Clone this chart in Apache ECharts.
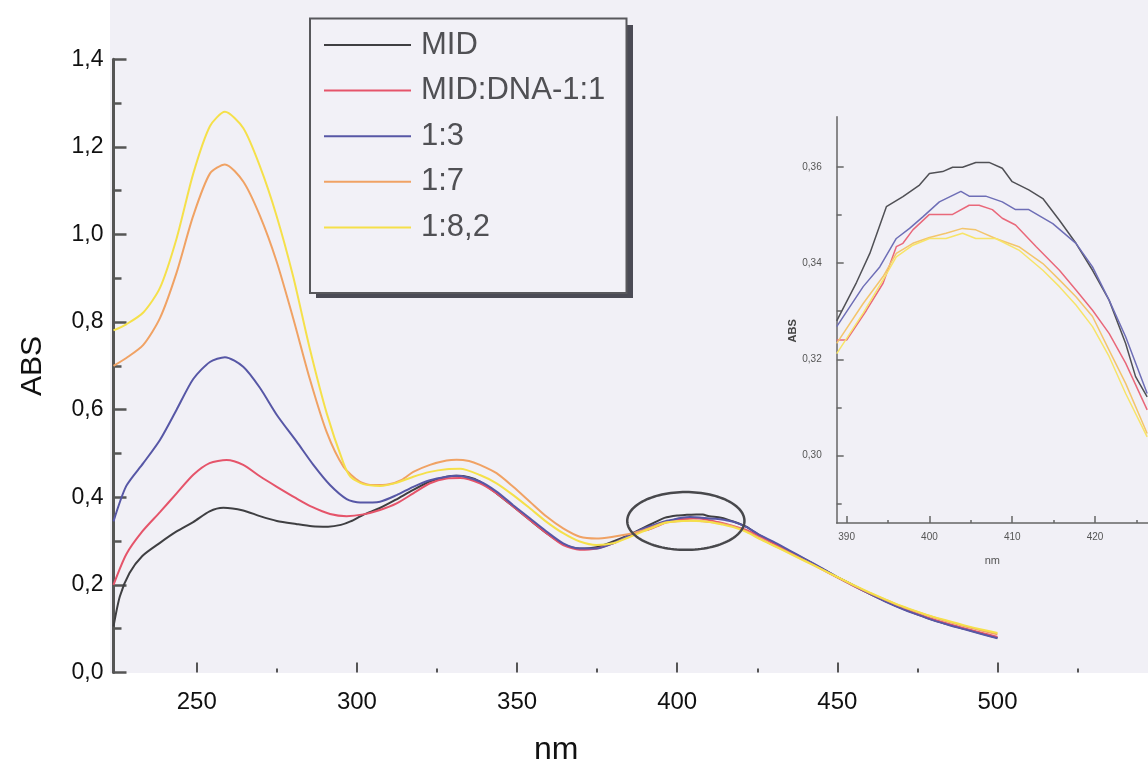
<!DOCTYPE html>
<html>
<head>
<meta charset="utf-8">
<script src="https://cdn.jsdelivr.net/npm/echarts@6/dist/echarts.min.js"></script>
<style>
html,body{margin:0;padding:0;background:#ffffff;}
#c{width:1148px;height:767px;}
</style>
</head>
<body>
<div id="c"></div>
<script>
// ---------- data ----------
const seriesNames = ['MID', 'MID:DNA-1:1', '1:3', '1:7', '1:8,2'];

const xMajorTicks = [250, 300, 350, 400, 450, 500];
const xMinorTicks = [275, 325, 375, 425, 475, 525];
const insetXTicks = [390, 400, 410, 420];
const insetXMinor = [395, 405, 415, 425];
const insetYTicks = [0.30, 0.32, 0.34, 0.36];
const insetYMinor = [0.29, 0.31, 0.33, 0.35];

const midMain = [[224,0.105],[226,0.174],[229,0.227],[233,0.266],[238.5,0.296],[243.7,0.322],[249,0.344],[254,0.368],[258.3,0.376],[264.5,0.370],[269.7,0.357],[275,0.346],[281,0.339],[286,0.334],[291,0.333],[295,0.337],[298,0.345],[302,0.360],[307,0.375],[312,0.394],[317.6,0.417],[322.8,0.436],[328,0.447],[331,0.449],[335,0.446],[338.4,0.436],[343.6,0.409],[348.8,0.379],[354,0.348],[359.2,0.318],[364.4,0.293],[369.6,0.283],[374.8,0.286],[380,0.299],[385,0.314],[388.8,0.328],[392.8,0.342],[396,0.353],[400,0.3586],[403,0.360],[406,0.361],[408,0.3605],[410,0.3569],[413.7,0.3534],[417.7,0.3441],[421.7,0.3323],[425,0.3164],[430,0.296],[435,0.277],[440,0.258],[445,0.238],[450,0.218],[455,0.199],[460,0.180],[465,0.163],[470,0.147],[475,0.133],[480,0.120],[485,0.109],[490,0.099],[495,0.089],[500,0.079]];

const dna1Main = [[224,0.200],[228,0.270],[233,0.322],[238.5,0.366],[243.7,0.409],[249,0.452],[254,0.478],[259.3,0.485],[264.5,0.474],[269.7,0.448],[275,0.424],[281,0.398],[286,0.378],[291.6,0.362],[296.8,0.357],[302,0.361],[307.2,0.371],[312.4,0.386],[317.6,0.409],[322.8,0.432],[328,0.443],[332.2,0.444],[338.4,0.432],[343.6,0.409],[348.8,0.379],[354,0.348],[359.2,0.318],[364.4,0.291],[369.6,0.280],[374.8,0.283],[380,0.295],[385,0.312],[389,0.324],[391,0.326],[394.4,0.336],[397,0.344],[400,0.350],[403,0.3505],[405,0.352],[407,0.3515],[409,0.349],[413,0.343],[417.7,0.334],[421.7,0.325],[426,0.310],[430,0.295],[435,0.276],[440,0.257],[445,0.237],[450,0.217],[455,0.198],[460,0.180],[465,0.163],[470,0.147],[475,0.133],[480,0.121],[485,0.110],[490,0.100],[495,0.091],[500,0.081]];

const dna3Main = [[224,0.345],[228,0.426],[233.3,0.478],[238.5,0.531],[243.7,0.600],[248.9,0.670],[254.1,0.709],[258.8,0.720],[264.5,0.698],[269.7,0.650],[275,0.588],[281.2,0.527],[286.4,0.474],[291.6,0.428],[296.8,0.396],[301,0.388],[307.2,0.390],[312.4,0.405],[317.6,0.424],[322.8,0.439],[328,0.447],[331.1,0.449],[338.4,0.436],[343.6,0.413],[348.8,0.382],[354,0.352],[359.2,0.322],[364.4,0.295],[369.6,0.283],[374.8,0.283],[380,0.295],[385,0.313],[389,0.327],[392,0.335],[396,0.345],[399,0.3495],[401,0.3525],[404,0.3549],[407,0.354],[410,0.3515],[412,0.351],[415,0.348],[417.7,0.344],[421.7,0.332],[426,0.313],[430,0.299],[435,0.279],[440,0.259],[445,0.239],[450,0.218],[455,0.199],[460,0.180],[465,0.162],[470,0.146],[475,0.132],[480,0.119],[485,0.108],[490,0.098],[495,0.088],[500,0.078]];

const dna7Main = [[224,0.700],[228,0.718],[233.3,0.748],[238.5,0.809],[243.7,0.913],[248.9,1.043],[254.1,1.139],[258.8,1.160],[264.5,1.121],[269.7,1.043],[274.9,0.939],[280.1,0.809],[285.3,0.670],[290.6,0.548],[295.8,0.470],[301,0.435],[305,0.428],[310,0.430],[314,0.440],[317.6,0.458],[322.8,0.474],[328,0.484],[331.1,0.486],[335,0.483],[338.4,0.474],[343.6,0.455],[348.8,0.424],[354,0.390],[359.2,0.356],[364.4,0.329],[369.6,0.310],[374.8,0.306],[380,0.310],[385,0.316],[389,0.3235],[392,0.3316],[396,0.342],[400,0.3453],[404,0.3472],[406,0.3468],[408,0.3451],[411,0.3433],[413.7,0.340],[417.7,0.333],[421.7,0.322],[426,0.305],[430,0.291],[435,0.273],[440,0.255],[445,0.236],[450,0.217],[455,0.199],[460,0.182],[465,0.166],[470,0.151],[475,0.138],[480,0.126],[485,0.115],[490,0.105],[495,0.096],[500,0.087]];

const dna82Main = [[224,0.781],[228,0.795],[233.3,0.822],[238.5,0.878],[243.7,0.991],[248.9,1.139],[254.1,1.247],[258.8,1.280],[264.5,1.243],[269.7,1.156],[274.9,1.043],[280.1,0.904],[285.3,0.739],[290.6,0.591],[295.8,0.478],[298,0.447],[302,0.430],[307.2,0.426],[312.4,0.433],[317.6,0.447],[322.8,0.458],[328,0.464],[332.2,0.465],[338.4,0.451],[343.6,0.432],[348.8,0.405],[354,0.375],[359.2,0.344],[364.4,0.318],[369.6,0.299],[374.8,0.291],[380,0.295],[385.3,0.310],[389,0.321],[392,0.3296],[396,0.3413],[400,0.3451],[404,0.3462],[408,0.3451],[411,0.3427],[413.7,0.3385],[417.7,0.3313],[421.7,0.3206],[426,0.304],[430,0.290],[435,0.272],[440,0.254],[445,0.236],[450,0.218],[455,0.200],[460,0.183],[465,0.167],[470,0.152],[475,0.139],[480,0.127],[485,0.117],[490,0.107],[495,0.098],[500,0.090]];

const midInset = [[388.8,0.328],[391.2,0.336],[392.8,0.342],[394.8,0.3517],[396.8,0.3538],[398.8,0.3562],[400,0.3586],[401.6,0.359],[402.8,0.3599],[404,0.3599],[405.6,0.3609],[407.2,0.3609],[408.8,0.3597],[410,0.3569],[412,0.3552],[413.7,0.3534],[415.7,0.3489],[417.7,0.3441],[419.7,0.3385],[421.7,0.3323],[423.7,0.3233],[424.9,0.3164],[426.3,0.3122]];
const dna1Inset = [[388.8,0.324],[390,0.324],[392.4,0.3302],[394.4,0.3358],[396,0.3434],[396.8,0.3441],[398,0.3469],[400,0.3501],[402.8,0.3501],[404.8,0.352],[406,0.352],[407.6,0.3511],[408.8,0.3493],[410.4,0.3479],[412.9,0.3434],[415.7,0.3385],[417.7,0.3344],[419.7,0.3302],[421.7,0.3254],[423.7,0.3192],[426.3,0.3095]];
const dna3Inset = [[388.8,0.3268],[392,0.3351],[394,0.3392],[396,0.3451],[397.6,0.3472],[399.2,0.3496],[401.2,0.3527],[403.8,0.3549],[404.8,0.3539],[406.8,0.3539],[408.8,0.3527],[410.4,0.3511],[412,0.3511],[414.9,0.3482],[417.7,0.3441],[419.7,0.3392],[421.7,0.3323],[423.7,0.3247],[426.3,0.3129]];
const dna7Inset = [[388.8,0.3233],[392,0.3316],[394.4,0.3372],[396,0.342],[398,0.3441],[400,0.3453],[402,0.3462],[404,0.3472],[405.6,0.3469],[408,0.3451],[410.8,0.3434],[413.7,0.3399],[415.7,0.3365],[417.7,0.333],[419.7,0.3289],[421.7,0.3219],[423.7,0.315],[426.3,0.3046]];
const dna82Inset = [[388.8,0.3212],[392,0.3296],[394.4,0.3365],[396,0.3413],[398,0.3437],[400,0.3451],[402,0.3451],[404,0.3462],[405.6,0.3451],[408,0.3451],[410.8,0.3427],[413.7,0.3385],[415.7,0.3351],[417.7,0.3313],[419.7,0.3268],[421.7,0.3206],[423.7,0.3129],[426.3,0.3039]];

// highlighted region (centre x, centre y, half-width, half-height in data units)
const ellipseSpec = [402.7, 0.346, 18.3, 0.066];

// ---------- styles ----------
const mainColors  = ['#3f3f42', '#e5546a', '#5757a6', '#f0a264', '#f5e04a'];
const insetColors = ['#505055', '#e9687a', '#6e6eb6', '#f3c56c', '#f7e468'];
const FONT = 'Liberation Sans, Arial, sans-serif';

const mainData = [midMain, dna1Main, dna3Main, dna7Main, dna82Main];
const insetData = [midInset, dna1Inset, dna3Inset, dna7Inset, dna82Inset];

const series = [];
mainData.forEach((d, i) => {
  series.push({
    name: seriesNames[i], type: 'line', xAxisIndex: 0, yAxisIndex: 0,
    data: d, symbol: 'none', smooth: 0.25, z: 2 + i * 0.01,
    lineStyle: { color: mainColors[i], width: 2 }, itemStyle: { color: mainColors[i] }
  });
});
insetData.forEach((d, i) => {
  series.push({
    name: seriesNames[i], type: 'line', xAxisIndex: 2, yAxisIndex: 1,
    data: d, symbol: 'none', smooth: false,
    lineStyle: { color: insetColors[i], width: 1.5 }, itemStyle: { color: insetColors[i] }
  });
});
series.push({
  name: 'highlight', type: 'custom', xAxisIndex: 0, yAxisIndex: 0, silent: true, z: 6,
  data: [ellipseSpec], encode: { x: 0, y: 1 },
  renderItem: function (params, api) {
    const cx = api.value(0), cy = api.value(1), rx = api.value(2), ry = api.value(3);
    const c = api.coord([cx, cy]);
    const e = api.coord([cx + rx, cy + ry]);
    const a = e[0] - c[0], b = c[1] - e[1];
    const pts = [];
    for (let k = 0; k < 120; k++) {
      const t = k / 120 * Math.PI * 2;
      pts.push([c[0] + a * Math.cos(t), c[1] + b * Math.sin(t)]);
    }
    return { type: 'polygon', shape: { points: pts }, style: { fill: 'none', stroke: '#48484c', lineWidth: 2.5 } };
  }
});

const axisCol = '#555';
const chart = echarts.init(document.getElementById('c'), null, { renderer: 'canvas' });
chart.setOption({
  animation: false,
  backgroundColor: 'transparent',
  graphic: [
    { type: 'rect', z: -10, silent: true, shape: { x: 110, y: 0, width: 1038, height: 673 }, style: { fill: '#f1f0f6' } },
    { type: 'rect', z: 3, silent: true, shape: { x: 316, y: 25, width: 317, height: 273 }, style: { fill: '#4b4b55' } },
    { type: 'rect', z: 3, silent: true, shape: { x: 310, y: 18.5, width: 316.5, height: 274.5 }, style: { fill: '#f2f1f7', stroke: '#58585c', lineWidth: 2 } }
  ],
  legend: {
    data: seriesNames, orient: 'vertical', left: 323, top: 29.5,
    itemWidth: 87, itemHeight: 31, itemGap: 14.6, padding: 0, selectedMode: false, z: 5,
    itemStyle: { opacity: 0 },
    lineStyle: { width: 2 },
    textStyle: { fontSize: 31, color: '#505054', fontFamily: FONT, padding: [0, 0, 0, 5], lineHeight: 31 }
  },
  grid: [
    { left: 113.5, top: 59.3, width: 1034.5, height: 613.2, containLabel: false, outerBoundsMode: 'none' },
    { left: 836.7, top: 116.7, width: 311.3, height: 406.3, containLabel: false, outerBoundsMode: 'none' }
  ],
  xAxis: [
    {
      type: 'value', gridIndex: 0, min: 224, max: 547, position: 'bottom',
      axisLine: { show: false },
      axisTick: { show: true, inside: true, length: 10, customValues: xMajorTicks, lineStyle: { color: axisCol, width: 2 } },
      axisLabel: { customValues: xMajorTicks, margin: 18, fontSize: 24, color: '#111', fontFamily: FONT },
      splitLine: { show: false },
      name: 'nm', nameLocation: 'middle', nameGap: 62,
      nameTextStyle: { fontSize: 32, color: '#111', fontFamily: FONT, padding: [0, 149, 0, 0] }
    },
    {
      type: 'value', gridIndex: 0, min: 224, max: 547, position: 'bottom',
      axisLine: { show: false },
      axisTick: { show: true, inside: true, length: 4, customValues: xMinorTicks, lineStyle: { color: axisCol, width: 2 } },
      axisLabel: { show: false }, splitLine: { show: false }
    },
    {
      type: 'value', gridIndex: 1, min: 388.8, max: 426.4, position: 'bottom',
      axisLine: { show: true, onZero: false, lineStyle: { color: '#666', width: 1.5 } },
      axisTick: { show: true, inside: true, length: 7, customValues: insetXTicks, lineStyle: { color: '#666', width: 1.5 } },
      axisLabel: { customValues: insetXTicks, margin: 9, fontSize: 10, color: '#555', fontFamily: FONT },
      splitLine: { show: false },
      name: 'nm', nameLocation: 'middle', nameGap: 32,
      nameTextStyle: { fontSize: 11, color: '#555', fontFamily: FONT }
    },
    {
      type: 'value', gridIndex: 1, min: 388.8, max: 426.4, position: 'bottom',
      axisLine: { show: false, onZero: false },
      axisTick: { show: true, inside: true, length: 3, customValues: insetXMinor, lineStyle: { color: '#666', width: 1.5 } },
      axisLabel: { show: false }, splitLine: { show: false }
    }
  ],
  yAxis: [
    {
      type: 'value', gridIndex: 0, min: 0, max: 1.4, interval: 0.2, position: 'left',
      axisLine: { show: true, onZero: false, lineStyle: { color: axisCol, width: 3 } },
      axisTick: { show: true, inside: true, length: 13, lineStyle: { color: axisCol, width: 2.5 } },
      minorTick: { show: true, splitNumber: 2, length: 8, lineStyle: { color: axisCol, width: 2.5 } },
      axisLabel: { margin: 10, fontSize: 23, color: '#111', fontFamily: FONT,
        formatter: v => v.toFixed(1).replace('.', ',') },
      splitLine: { show: false },
      name: 'ABS', nameLocation: 'middle', nameGap: 66,
      nameTextStyle: { fontSize: 30, color: '#111', fontFamily: FONT }
    },
    {
      type: 'value', gridIndex: 1, min: 0.286, max: 0.3704, position: 'left',
      axisLine: { show: true, onZero: false, lineStyle: { color: '#666', width: 1.5 } },
      axisTick: { show: true, inside: true, length: 7, customValues: insetYTicks, lineStyle: { color: '#666', width: 1.5 } },
      axisLabel: { customValues: insetYTicks, margin: 15, fontSize: 10, color: '#555', fontFamily: FONT,
        formatter: v => v.toFixed(2).replace('.', ',') },
      splitLine: { show: false },
      name: 'ABS', nameLocation: 'middle', nameGap: 36,
      nameTextStyle: { fontSize: 11, color: '#444', fontFamily: FONT, fontWeight: 'bold', padding: [0, 22, 0, 0] }
    },
    {
      type: 'value', gridIndex: 1, min: 0.286, max: 0.3704, position: 'left',
      axisLine: { show: false, onZero: false },
      axisTick: { show: true, inside: true, length: 5, customValues: insetYMinor, lineStyle: { color: '#666', width: 1.5 } },
      axisLabel: { show: false }, splitLine: { show: false }
    }
  ],
  series: series
});
</script>
</body>
</html>
